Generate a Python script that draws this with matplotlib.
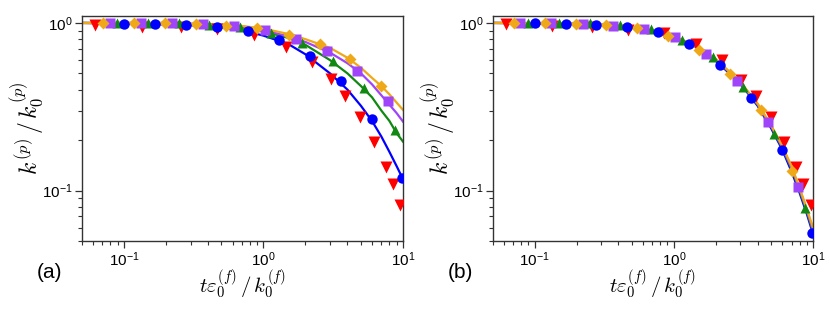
import matplotlib
matplotlib.use('agg')
import matplotlib.pyplot as plt
from matplotlib.ticker import NullFormatter, LogLocator

plt.rcParams['font.family'] = ['Liberation Sans', 'DejaVu Sans']
plt.rcParams['mathtext.fontset'] = 'cm'
plt.rcParams['xtick.direction'] = 'out'
plt.rcParams['ytick.direction'] = 'out'

# ---- data ----
# marker x positions (same in both panels)
x_red = [0.062, 0.134, 0.258, 0.468, 0.855, 1.44, 2.21, 3.03, 3.86, 4.95, 6.15, 7.55, 8.52, 9.6]
x_blue = [0.1, 0.167, 0.278, 0.464, 0.774, 1.29, 2.15, 3.59, 5.99, 9.8]
x_green = [0.089, 0.149, 0.248, 0.41, 0.68, 1.14, 1.9, 3.13, 5.22, 8.8]
x_purple = [0.079, 0.132, 0.221, 0.368, 0.61, 1.02, 1.71, 2.84, 4.72, 7.85]
x_orange = [0.071, 0.118, 0.197, 0.327, 0.543, 0.905, 1.52, 2.53, 4.2, 7.0]

# panel (a) markers
a_red = [0.973, 0.95, 0.94, 0.917, 0.848, 0.722, 0.588, 0.462, 0.368, 0.275, 0.196, 0.138, 0.110, 0.082]
a_blue = [0.99, 0.99, 0.973, 0.95, 0.896, 0.792, 0.636, 0.453, 0.267, 0.118]
a_green = [1.0, 1.0, 1.0, 0.973, 0.943, 0.868, 0.757, 0.594, 0.409, 0.231]
a_purple = [1.0, 1.0, 1.0, 0.986, 0.964, 0.909, 0.803, 0.684, 0.520, 0.340]
a_orange = [1.0, 1.0, 1.0, 0.982, 0.964, 0.93, 0.848, 0.75, 0.608, 0.422]

# panel (b) markers
b_red = [0.99, 0.96, 0.94, 0.91, 0.868, 0.752, 0.597, 0.457, 0.368, 0.275, 0.196, 0.138, 0.110, 0.082]
b_blue = [1.0, 0.99, 0.973, 0.946, 0.879, 0.746, 0.562, 0.355, 0.175, 0.056]
b_green = [1.0, 1.0, 1.0, 0.977, 0.917, 0.795, 0.626, 0.415, 0.218, 0.079]
b_purple = [1.0, 1.0, 0.99, 0.964, 0.917, 0.821, 0.65, 0.452, 0.255, 0.105]
b_orange = [1.0, 1.0, 0.99, 0.977, 0.934, 0.84, 0.69, 0.496, 0.303, 0.131]

# fitted curves
x_line = [0.05, 0.1, 0.2, 0.3, 0.5, 0.7, 1.0, 1.5, 2.0, 3.0, 4.0, 5.0, 6.0, 7.0, 8.0, 9.0, 10.0]
a_line_blue = [1.0, 0.99, 0.98, 0.97, 0.94, 0.905, 0.84, 0.75, 0.65, 0.50, 0.40, 0.32, 0.26, 0.21, 0.17, 0.14, 0.117]
a_line_green = [1.0, 1.0, 0.99, 0.985, 0.965, 0.94, 0.89, 0.815, 0.74, 0.60, 0.50, 0.42, 0.36, 0.30, 0.26, 0.22, 0.196]
a_line_purple = [1.0, 1.0, 1.0, 0.99, 0.975, 0.955, 0.91, 0.83, 0.77, 0.665, 0.575, 0.50, 0.43, 0.37, 0.325, 0.29, 0.258]
a_line_orange = [1.0, 1.0, 1.0, 0.99, 0.978, 0.96, 0.925, 0.86, 0.80, 0.71, 0.62, 0.54, 0.47, 0.42, 0.375, 0.335, 0.303]

b_line_blue = [1.0, 0.995, 0.985, 0.973, 0.94, 0.895, 0.82, 0.71, 0.595, 0.435, 0.32, 0.235, 0.176, 0.13, 0.097, 0.073, 0.055]
b_line_green = [1.0, 0.997, 0.988, 0.977, 0.945, 0.90, 0.825, 0.715, 0.602, 0.44, 0.325, 0.24, 0.18, 0.135, 0.10, 0.075, 0.057]
b_line_purple = [1.0, 0.998, 0.989, 0.978, 0.947, 0.902, 0.828, 0.718, 0.606, 0.442, 0.327, 0.242, 0.182, 0.137, 0.102, 0.077, 0.058]
b_line_orange = [1.0, 1.0, 0.99, 0.98, 0.95, 0.905, 0.83, 0.72, 0.61, 0.445, 0.33, 0.245, 0.185, 0.14, 0.104, 0.078, 0.06]

c_red = '#ff0000'
c_blue = '#0000ff'
c_green = '#118811'
c_purple = '#9f44f8'
c_orange = '#efa818'

fig = plt.figure(figsize=(8.3, 3.12), dpi=100)
ax_a = fig.add_axes([0.0988, 0.2276, 0.3867, 0.7211])
ax_b = fig.add_axes([0.5936, 0.2276, 0.3860, 0.7211])

panels = [
    (ax_a, '(a)', a_red, a_blue, a_green, a_purple, a_orange,
     a_line_blue, a_line_green, a_line_purple, a_line_orange),
    (ax_b, '(b)', b_red, b_blue, b_green, b_purple, b_orange,
     b_line_blue, b_line_green, b_line_purple, b_line_orange),
]

for ax, tag, yr, yb, yg, yp, yo, lb, lg, lp, lo in panels:
    ax.plot(x_line, lb, color=c_blue, lw=1.6, zorder=2)
    ax.plot(x_line, lg, color=c_green, lw=1.6, zorder=2)
    ax.plot(x_line, lp, color=c_purple, lw=1.6, zorder=2)
    ax.plot(x_line, lo, color=c_orange, lw=1.6, zorder=2)

    ax.plot(x_red, yr, 'v', color=c_red, ms=9, mec='none', zorder=3)
    ax.plot(x_green, yg, '^', color=c_green, ms=7.5, mec='none', zorder=4)
    ax.plot(x_purple, yp, 's', color=c_purple, ms=6.5, mec='none', zorder=4)
    ax.plot(x_orange, yo, 'D', color=c_orange, ms=6.5, mec='none', zorder=4)
    ax.plot(x_blue, yb, 'o', color=c_blue, ms=7.5, mec='none', zorder=5)

    ax.set_xscale('log')
    ax.set_yscale('log')
    ax.set_xlim(0.05, 10)
    ax.set_ylim(0.05, 1.1)
    ax.xaxis.set_major_locator(LogLocator(base=10, numticks=10))
    ax.yaxis.set_major_locator(LogLocator(base=10, numticks=10))
    ax.xaxis.set_minor_formatter(NullFormatter())
    ax.yaxis.set_minor_formatter(NullFormatter())
    ax.tick_params(which='major', length=5, width=0.9, labelsize=11, pad=1.5, color='#333333')
    ax.tick_params(which='minor', length=3, width=0.8, color='#333333')
    for sp in ax.spines.values():
        sp.set_color('#333333')
        sp.set_linewidth(1.0)

    ax.set_xlabel(r'$t\varepsilon_0^{(f)}\,/\,k_0^{(f)}$', fontsize=15, labelpad=-1)
    ax.set_ylabel(r'$k^{(p)}\,/\,k_0^{(p)}$', fontsize=17, labelpad=-3)
    ax.text(-0.14, -0.14, tag, transform=ax.transAxes, fontsize=15,
            ha='left', va='center')

plt.savefig('out.png', dpi=100)
